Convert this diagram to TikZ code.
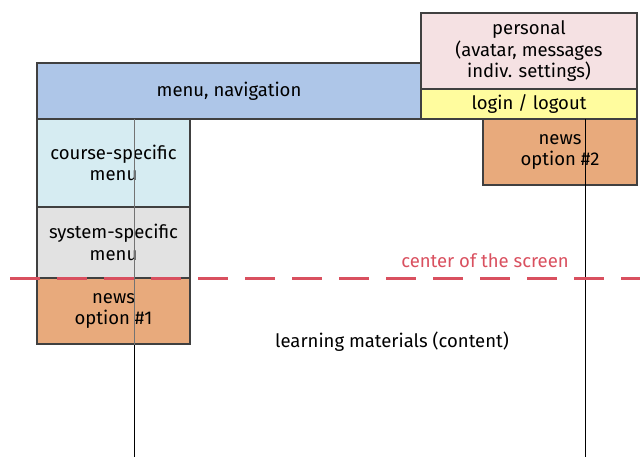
\documentclass[tikz,border=0pt]{standalone}
\usepackage{fontspec}
\setmainfont{Fira Sans}
\begin{document}
\begin{tikzpicture}[x=1pt,y=-1pt,
  box/.style={draw=black!75,line width=1.2pt,align=center,font=\fontsize{18.5}{21.5}\selectfont,inner sep=0pt},
  vline/.style={draw=black,line width=0.9pt},
  lbl/.style={font=\fontsize{18.5}{21.5}\selectfont}]
\useasboundingbox (0,0) rectangle (640,457);
\definecolor{navblue}{HTML}{AEC6E8}
\definecolor{perspink}{HTML}{F5E1E3}
\definecolor{loginyel}{HTML}{FFFC9E}
\definecolor{newsor}{HTML}{E8AA7C}
\definecolor{coursecy}{HTML}{D6ECF2}
\definecolor{sysgray}{HTML}{E2E2E2}
\definecolor{cred}{HTML}{D9505F}
\node[box,fill=navblue,minimum width=384pt,minimum height=56pt] (nav) at (229,91) {menu, navigation};
\node[box,fill=perspink,minimum width=216pt,minimum height=77pt] (pers) at (529,51.5) {personal\\(avatar, messages\\indiv. settings)};
\node[box,fill=loginyel,minimum width=216pt,minimum height=30pt] (login) at (529,104) {login / logout};
\node[box,fill=newsor,minimum width=154pt,minimum height=66pt] (news2) at (560,152) {news\\option \#2};
\node[box,fill=coursecy,minimum width=153pt,minimum height=88pt] (course) at (113.5,163) {course-specific\\menu};
\node[box,fill=sysgray,minimum width=153pt,minimum height=71pt] (sys) at (113.5,242.5) {system-specific\\menu};
\node[box,fill=newsor,minimum width=153pt,minimum height=66pt] (news1) at (113.5,311) {news\\option \#1};
\coordinate (l1top) at (134,119);
\coordinate (l1bot) at (134,457);
\coordinate (l2top) at (585,119);
\coordinate (l2bot) at (585,457);
\draw[vline,draw=black!55] (l1top) -- (news1.south -| l1top);
\draw[vline] (news1.south -| l1top) -- (l1bot);
\draw[vline] (l2top) -- (l2bot);
\coordinate (dl) at (10,278);
\coordinate (dr) at (640,278);
\draw[cred,line width=3pt,dash pattern=on 30pt off 17pt] (dl) -- (dr);
\node[lbl,text=cred] (center) at (485,261) {center of the screen};
\node[lbl] (learn) at (392,342) {learning materials (content)};
\end{tikzpicture}
\end{document}
